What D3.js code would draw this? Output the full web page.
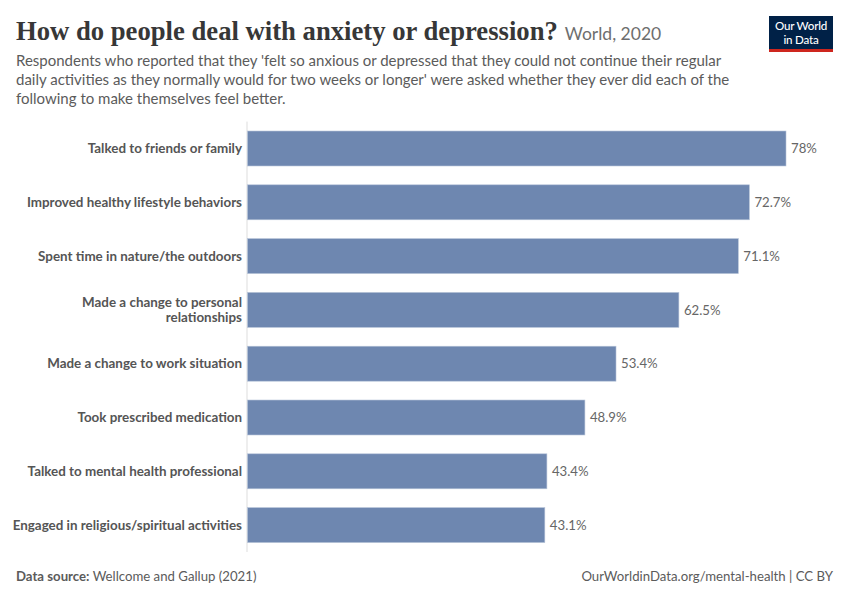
<!DOCTYPE html>
<html>
<head>
<meta charset="utf-8">
<title>How do people deal with anxiety or depression?</title>
<script src="https://d3js.org/d3.v7.min.js"></script>
<style>
  body { margin: 0; background: #fff; }
  svg { display: block; }
  .title { font-family: "Liberation Serif", "DejaVu Serif", serif; font-weight: bold; fill: #373737; }
  .title-aside { font-family: Lato, sans-serif; fill: #6e6e6e; }
  .subtitle { font-family: Lato, sans-serif; font-size: 15px; fill: #5b5b5b; }
  .cat-label { font-family: Lato, sans-serif; font-size: 13.4px; font-weight: bold; fill: #555; }
  .value-label { font-family: Lato, sans-serif; font-size: 13.2px; fill: #666; }
  .footer { font-family: Lato, sans-serif; font-size: 13.2px; fill: #5b5b5b; }
  .axis-line { stroke: #ddd; stroke-width: 1; }
  .bar { fill: #6e87b0; stroke: #b6c3d8; stroke-width: 0.6; }
</style>
</head>
<body>
<div id="chart"></div>
<script>
// data
const categories = [
  ["Talked to friends or family"],
  ["Improved healthy lifestyle behaviors"],
  ["Spent time in nature/the outdoors"],
  ["Made a change to personal", "relationships"],
  ["Made a change to work situation"],
  ["Took prescribed medication"],
  ["Talked to mental health professional"],
  ["Engaged in religious/spiritual activities"]
];
const values = [78, 72.7, 71.1, 62.5, 53.4, 48.9, 43.4, 43.1];

const subtitleLines = [
  "Respondents who reported that they 'felt so anxious or depressed that they could not continue their regular",
  "daily activities as they normally would for two weeks or longer' were asked whether they ever did each of the",
  "following to make themselves feel better."
];

const W = 850, H = 600;
const svg = d3.select("#chart").append("svg")
  .attr("width", W).attr("height", H);

// title
const title = svg.append("text")
  .attr("class", "title")
  .attr("x", 16).attr("y", 40)
  .style("font-size", "27px")
  .text("How do people deal with anxiety or depression?");
// fit the serif title to the reference width
const tw = title.node().getComputedTextLength();
const fs = 27 * 542 / tw;
title.style("font-size", Math.min(fs, 29) + "px");
const titleEnd = 16 + title.node().getComputedTextLength();

svg.append("text")
  .attr("class", "title-aside")
  .attr("x", titleEnd + 7).attr("y", 40)
  .style("font-size", "17.5px")
  .text("World, 2020");

svg.append("g").selectAll("text")
  .data(subtitleLines)
  .join("text")
  .attr("class", "subtitle")
  .attr("x", 16)
  .attr("y", (d, i) => 66 + i * 19)
  .text(d => d);

// logo
const logo = svg.append("g").attr("transform", "translate(769,16)");
logo.append("rect").attr("width", 64).attr("height", 36).attr("fill", "#002147");
logo.append("rect").attr("y", 33).attr("width", 64).attr("height", 3).attr("fill", "#ce261e");
const logoText = logo.append("text")
  .attr("text-anchor", "middle")
  .style("font-family", "Lato, sans-serif").style("font-size", "11.6px")
  .style("font-weight", "500").attr("fill", "#fff")
  .style("letter-spacing", "-0.2px");
logoText.append("tspan").attr("x", 32).attr("y", 14.3).text("Our World");
logoText.append("tspan").attr("x", 32).attr("y", 28.3).text("in Data");

// scales
const x = d3.scaleLinear()
  .domain([0, d3.max(values)])
  .range([247, 786]);

const y = d3.scaleBand()
  .domain(d3.range(categories.length))
  .range([121.6, 552])
  .paddingInner(0.35)
  .paddingOuter(0.175);

// axis line
svg.append("line")
  .attr("class", "axis-line")
  .attr("x1", x(0)).attr("x2", x(0))
  .attr("y1", y.range()[0]).attr("y2", y.range()[1]);

// bars
svg.append("g").selectAll("rect")
  .data(values)
  .join("rect")
  .attr("class", "bar")
  .attr("x", x(0) + 0.5)
  .attr("y", (d, i) => y(i))
  .attr("width", d => x(d) - x(0) - 0.5)
  .attr("height", y.bandwidth());

// value labels
svg.append("g").selectAll("text")
  .data(values)
  .join("text")
  .attr("class", "value-label")
  .attr("x", d => x(d) + 5)
  .attr("y", (d, i) => y(i) + y.bandwidth() / 2)
  .attr("dy", "0.35em")
  .text(d => d + "%");

// category labels
const catG = svg.append("g").selectAll("text")
  .data(categories)
  .join("text")
  .attr("class", "cat-label")
  .attr("text-anchor", "end")
  .attr("x", x(0) - 5)
  .attr("y", (d, i) => y(i) + y.bandwidth() / 2 - (d.length - 1) * 7.5)
  .attr("dy", "0.35em");
catG.selectAll("tspan")
  .data(d => d)
  .join("tspan")
  .attr("x", x(0) - 5)
  .attr("dy", (d, i) => i === 0 ? "0.35em" : "15")
  .text(d => d);

// footer
const src = svg.append("text").attr("class", "footer").attr("x", 16).attr("y", 581);
src.append("tspan").style("font-weight", "bold").text("Data source:");
src.append("tspan").text(" Wellcome and Gallup (2021)");

svg.append("text")
  .attr("class", "footer")
  .attr("x", 833).attr("y", 581)
  .attr("text-anchor", "end")
  .text("OurWorldinData.org/mental-health | CC BY");
</script>
</body>
</html>
